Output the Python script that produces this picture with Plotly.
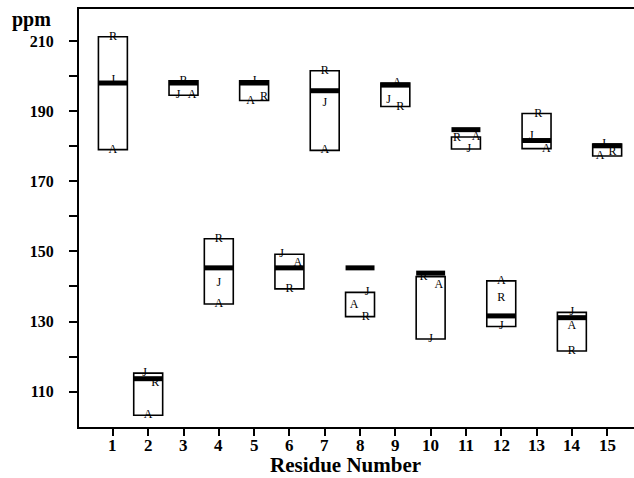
import plotly.graph_objects as go

# ---- data (ppm) ----
residues = list(range(1, 16))
R_vals = [211.2, 112.6, 198.6, 153.6, 194.1, 139.3, 201.5, 131.4, 191.3, 142.8, 182.2, 136.6, 189.3, 121.6, 178.4]
J_vals = [198.8, 115.3, 194.7, 140.9, 198.6, 149.2, 192.2, 138.3, 193.2, 125.0, 179.2, 128.6, 183.0, 132.6, 180.6]
A_vals = [179.0, 103.3, 194.5, 135.0, 193.0, 146.8, 178.8, 134.7, 198.0, 140.5, 182.6, 141.6, 179.3, 128.8, 177.2]
exp_vals = [198.0, 113.7, 198.0, 145.3, 198.0, 145.3, 195.8, 145.3, 197.4, 143.8, 184.7, 131.6, 181.6, 131.1, 180.1]

x_ticktext = [str(r) for r in residues]
y_tickvals = [110, 120, 130, 140, 150, 160, 170, 180, 190, 200, 210]
y_ticktext = ["110", "", "130", "", "150", "", "170", "", "190", "", "210"]

# ---- label placement (horizontal nudges, in residue units) ----
R_dx = [0, 0.2, 0, 0, 0.28, 0, 0, 0.16, 0.14, -0.2, -0.25, 0, 0.05, 0, 0.15]
J_dx = [0, -0.1, -0.15, 0, 0, -0.22, 0, 0.2, -0.19, 0, 0.08, 0, -0.15, 0, -0.1]
A_dx = [0, 0, 0.24, 0, -0.1, 0.24, 0, -0.17, 0.05, 0.23, 0.29, 0, 0.28, 0, -0.2]

SERIF = "Liberation Serif"
BOXW = 0.82

lo = [min(r, j, a) for r, j, a in zip(R_vals, J_vals, A_vals)]
hi = [max(r, j, a) for r, j, a in zip(R_vals, J_vals, A_vals)]

fig = go.Figure()

# range boxes
fig.add_trace(go.Bar(
    x=residues, base=lo, y=[h - l for h, l in zip(hi, lo)], width=BOXW,
    marker=dict(color="white", line=dict(color="black", width=1.6)),
    showlegend=False, hoverinfo="skip"))

# thick experimental bars
ex, ey = [], []
for r, v in zip(residues, exp_vals):
    ex += [r - BOXW / 2, r + BOXW / 2, None]
    ey += [v, v, None]
fig.add_trace(go.Scatter(x=ex, y=ey, mode="lines",
                         line=dict(color="black", width=5),
                         showlegend=False, hoverinfo="skip"))

# letters
for letter, vals, dx in (("R", R_vals, R_dx), ("J", J_vals, J_dx), ("A", A_vals, A_dx)):
    fig.add_trace(go.Scatter(
        x=[r + d for r, d in zip(residues, dx)], y=vals, mode="text",
        text=[letter] * len(vals), textposition="middle center",
        textfont=dict(family=SERIF, size=12, color="black"),
        showlegend=False, hoverinfo="skip"))

# x tick labels as annotations (placed closer to the axis than Plotly allows)
annotations = [
    dict(text=t, x=r, xref="x", yref="paper", y=-0.045, xanchor="center", yanchor="middle",
         showarrow=False, font=dict(family=SERIF, size=17, color="black", weight="bold"))
    for r, t in zip(residues, x_ticktext)
]
annotations += [
    dict(text="ppm", xref="paper", yref="paper", x=-0.085, y=0.974,
         xanchor="center", yanchor="middle", showarrow=False,
         font=dict(family=SERIF, size=20, color="black", weight="bold")),
    dict(text="Residue Number", xref="paper", yref="paper", x=0.481, y=-0.092,
         xanchor="center", yanchor="middle", showarrow=False,
         font=dict(family=SERIF, size=21, color="black", weight="bold")),
]

fig.update_layout(
    width=634, height=478,
    margin=dict(l=79, r=0, t=9, b=51),
    paper_bgcolor="white", plot_bgcolor="white",
    barmode="overlay",
    xaxis=dict(range=[0.04, 15.76], tickvals=residues, showticklabels=False,
               showgrid=False, zeroline=False, showline=True, linecolor="black", linewidth=2,
               mirror=True, ticks="outside", ticklen=7, tickwidth=2, tickcolor="black"),
    yaxis=dict(range=[99.93, 219.1], tickvals=y_tickvals, ticktext=y_ticktext,
               showgrid=False, zeroline=False, showline=True, linecolor="black", linewidth=2,
               ticks="outside", ticklen=8, tickwidth=2, tickcolor="black",
               ticklabelstandoff=12,
               tickfont=dict(family=SERIF, size=16, color="black", weight="bold")),
    annotations=annotations,
)

fig.write_html("out.html")
